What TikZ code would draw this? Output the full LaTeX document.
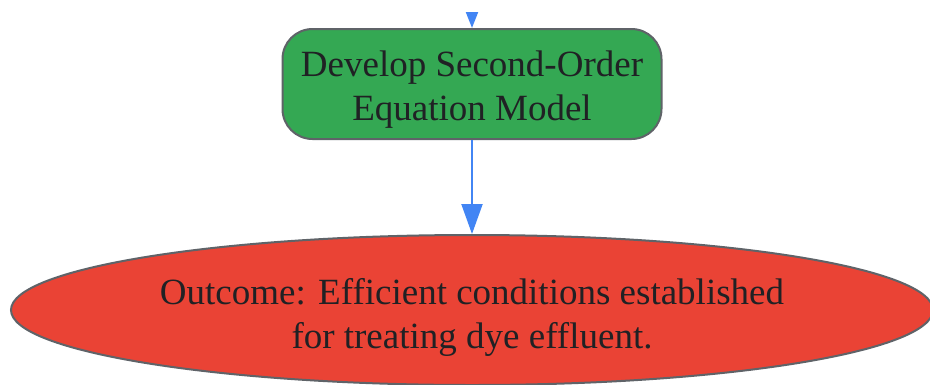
\documentclass[tikz,border=0pt]{standalone}
\usepackage{fontspec}
\setmainfont{Liberation Serif}
\usetikzlibrary{arrows.meta,shapes.geometric}
\definecolor{gfill}{HTML}{34A853}
\definecolor{rfill}{HTML}{EA4335}
\definecolor{bline}{HTML}{4285F4}
\definecolor{edge}{HTML}{5F6368}
\definecolor{txt}{HTML}{202124}
\tikzset{
  procbox/.style={draw=edge, line width=2pt, fill=gfill, rounded corners=30pt,
    minimum width=379pt, minimum height=110pt, inner sep=0pt, align=center,
    text=txt, font=\fontsize{37}{44}\selectfont},
  outbox/.style={draw=edge, line width=2pt, fill=rfill, ellipse,
    minimum width=922pt, minimum height=150pt, inner sep=0pt,
    text=txt, font=\fontsize{37}{44}\selectfont},
  flowsmall/.style={draw=bline, line width=2pt, -{Triangle[length=16pt,width=12pt]}},
  flowbig/.style={draw=bline, line width=2pt, -{Triangle[length=30pt,width=21pt]}}
}
\begin{document}
\begin{tikzpicture}[x=1pt,y=1pt]
\useasboundingbox (0,0) rectangle (930,-384);
\clip (0,0) rectangle (930,-384);
\fill[white] (0,0) rectangle (930,-384);
\node[procbox] (model) at (472,-84) {\raisebox{-6pt}[\height][\depth]{\parbox{370pt}{\centering Develop Second-Order\\Equation Model}}};
\node[outbox] (outcome) at (472,-310) {\makebox[0pt]{\raisebox{-7pt}[\height][\depth]{\parbox{700pt}{\centering Outcome: Efficient conditions established\\for treating dye effluent.}}}};
\coordinate (incoming) at (472,-12);
\draw[flowsmall] (incoming) -- (model.north);
\draw[flowbig] (model.south) -- (outcome.north);
\end{tikzpicture}
\end{document}
